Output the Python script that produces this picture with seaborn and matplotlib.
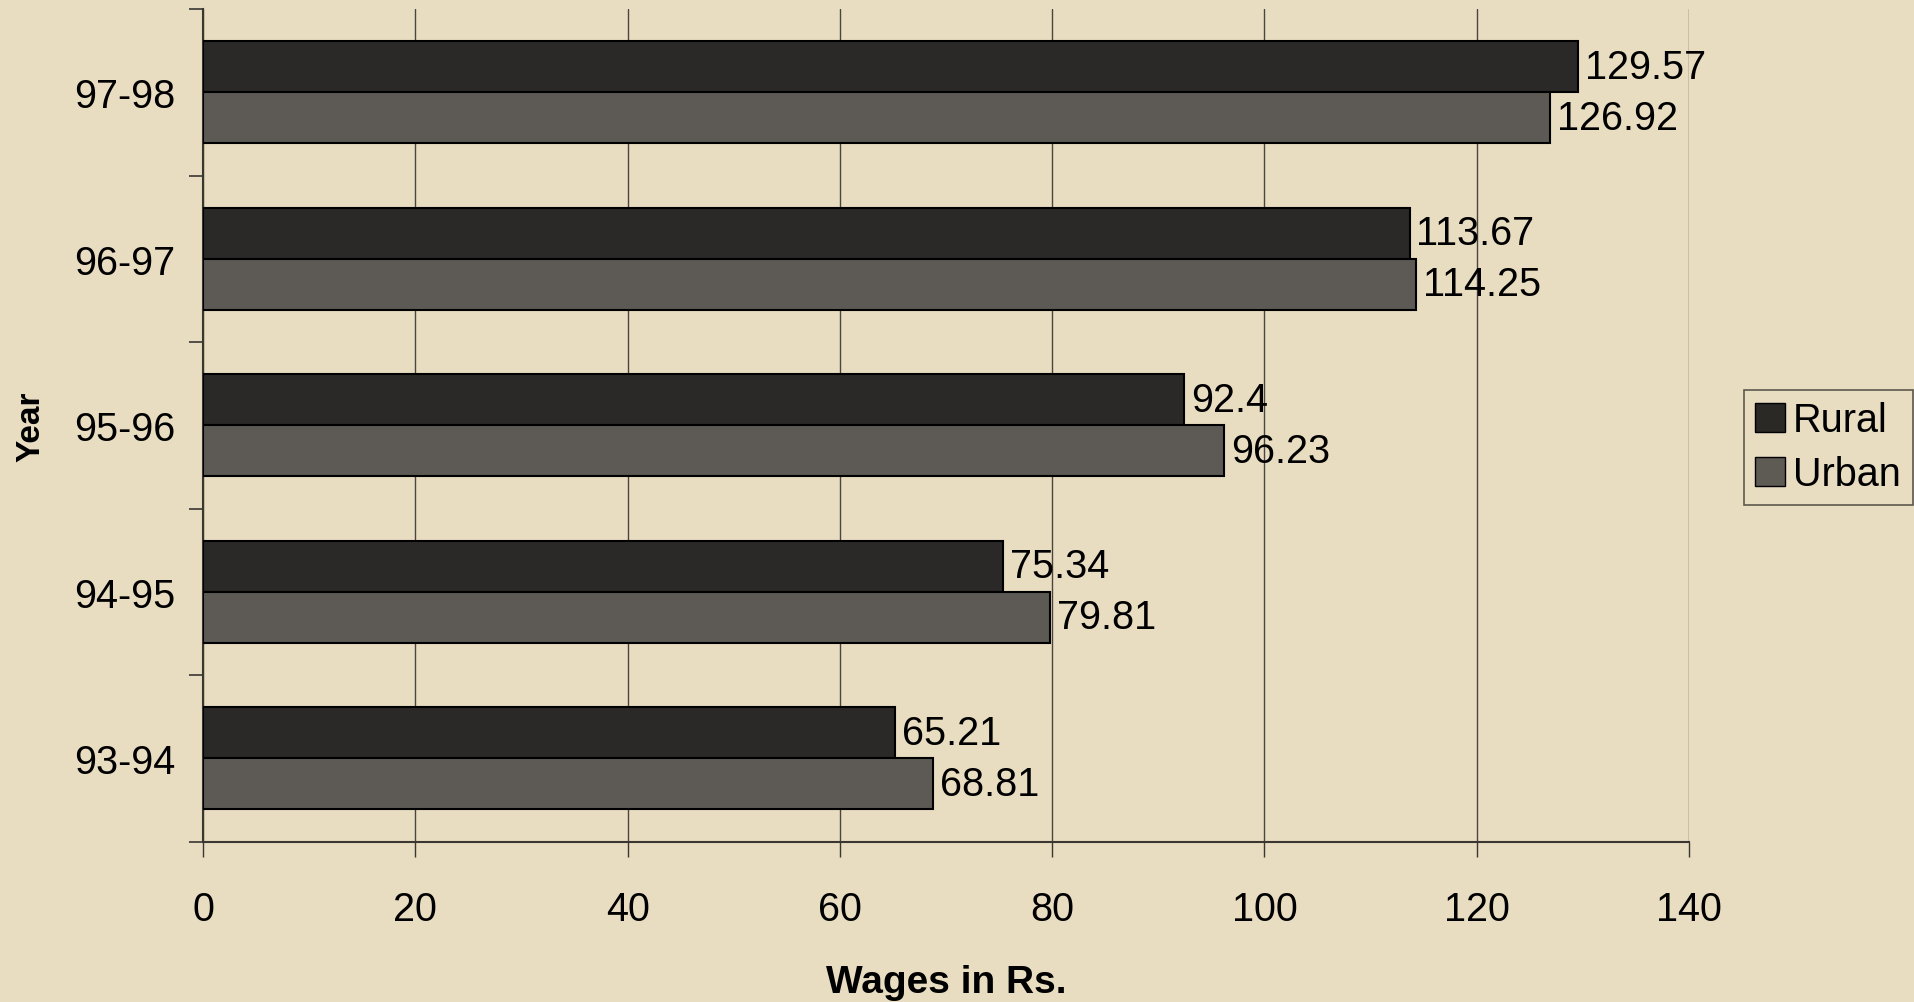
import matplotlib
matplotlib.use("Agg")
import matplotlib.pyplot as plt
import seaborn as sns
import pandas as pd
from matplotlib.patches import Patch
from matplotlib.ticker import FixedLocator

years = ["97-98", "96-97", "95-96", "94-95", "93-94"]
rural = [129.57, 113.67, 92.4, 75.34, 65.21]
urban = [126.92, 114.25, 96.23, 79.81, 68.81]
rural_labels = ["129.57", "113.67", "92.4", "75.34", "65.21"]
urban_labels = ["126.92", "114.25", "96.23", "79.81", "68.81"]
x_ticks = [0, 20, 40, 60, 80, 100, 120, 140]

df = pd.DataFrame({
    "Year": years * 2,
    "Wage": rural + urban,
    "Area": ["Rural"] * len(years) + ["Urban"] * len(years),
})

bg = "#e8dcc1"
c_rural = "#2a2926"
c_urban = "#5e5a54"

sns.set_theme(style="white")
plt.rcParams["font.family"] = ["Liberation Sans", "DejaVu Sans"]
plt.rcParams["text.color"] = "black"
plt.rcParams["xtick.color"] = "black"
plt.rcParams["ytick.color"] = "black"
plt.rcParams["axes.labelcolor"] = "black"

fig = plt.figure(figsize=(19.15, 10.03), dpi=100, facecolor=bg)
ax = fig.add_axes([0.106, 0.16, 0.776, 0.83])
ax.set_facecolor(bg)

sns.barplot(data=df, y="Year", x="Wage", hue="Area", order=years,
            hue_order=["Rural", "Urban"], palette=[c_rural, c_urban],
            orient="h", width=0.61, edgecolor="black", linewidth=1.5,
            legend=False, ax=ax, zorder=3)

for cont, labs in zip(ax.containers, [rural_labels, urban_labels]):
    ax.bar_label(cont, labels=labs, padding=5, fontsize=28.5, color="black")

ax.set_xlim(0, 140)
ax.set_ylim(4.5, -0.5)
ax.set_xticks(x_ticks)
ax.set_xticklabels([str(t) for t in x_ticks])
ax.xaxis.grid(True, color="#4a463f", linewidth=1.0, zorder=0)
ax.yaxis.grid(False)
ax.set_axisbelow(True)

ax.yaxis.set_minor_locator(FixedLocator([-0.5, 0.5, 1.5, 2.5, 3.5, 4.5]))
ax.tick_params(axis="y", which="major", length=0, pad=20, labelsize=28.5,
               labelcolor="black")
ax.tick_params(axis="y", which="minor", length=10, width=1.2, color="#3a3732",
               direction="out", left=True)
ax.tick_params(axis="x", which="major", length=11, width=1.0, color="#3a3732",
               direction="out", bottom=True, pad=24, labelsize=28.5,
               labelcolor="black")

for s in ["top", "right"]:
    ax.spines[s].set_visible(False)
for s in ["left", "bottom"]:
    ax.spines[s].set_color("#3a3732")
    ax.spines[s].set_linewidth(1.5)

ax.set_xlabel("Wages in Rs.", fontsize=28, fontweight="bold", labelpad=26,
              color="black")
ax.set_ylabel("Year", fontsize=24, fontweight="bold", labelpad=20,
              color="black")

handles = [Patch(facecolor=c_rural, edgecolor="black", label="Rural"),
           Patch(facecolor=c_urban, edgecolor="black", label="Urban")]
leg = fig.legend(handles=handles, loc="center left",
                 bbox_to_anchor=(0.9105, 0.553), fontsize=28.5, frameon=True,
                 fancybox=False, edgecolor="#3a3732", facecolor=bg,
                 handlelength=0.75, handleheight=0.75, handletextpad=0.2,
                 borderpad=0.3, labelspacing=0.4, borderaxespad=0)
leg.get_frame().set_linewidth(1.2)
for t in leg.get_texts():
    t.set_color("black")

fig.savefig("out.png", dpi=100, facecolor=bg)
